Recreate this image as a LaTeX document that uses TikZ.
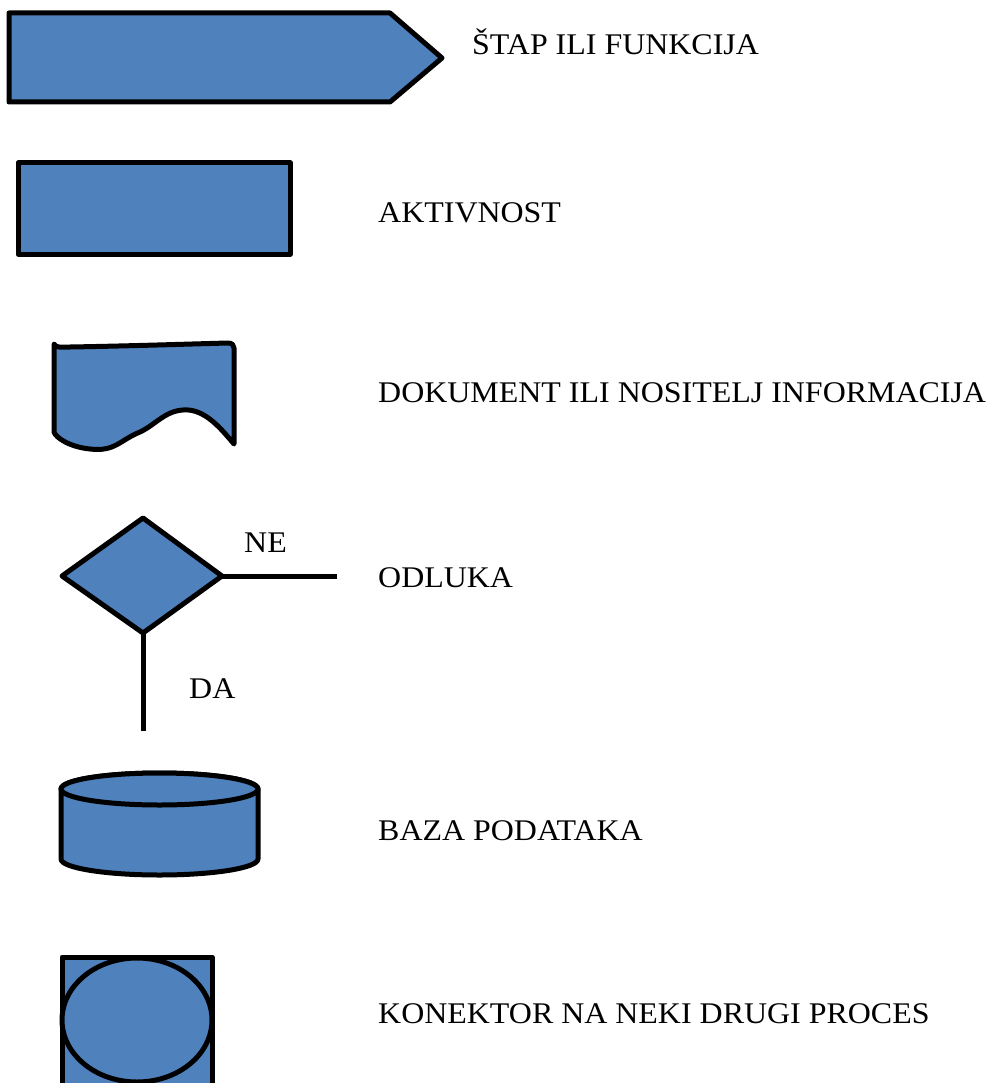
\documentclass[tikz,border=0pt]{standalone}
\usepackage{graphicx}
\usepackage{fontspec}
\setmainfont{Liberation Serif}
\definecolor{shapeblue}{HTML}{4F81BD}
\newcommand{\widetxt}[1]{\scalebox{1.065}[1]{#1}}
\begin{document}
\begin{tikzpicture}[x=1pt,y=-1pt,
  shp/.style={draw=black,fill=shapeblue,line width=5pt,line join=round},
  conn/.style={draw=black,line width=5pt},
  lbl/.style={anchor=base west,inner sep=0pt,font=\fontsize{30}{34}\selectfont}]
\useasboundingbox (0,0) rectangle (989,1083);
% step / function
\draw[shp] (9,13) -- (390,13) -- (442,58) -- (390,102) -- (9,102) -- cycle;
\node[lbl] (t1) at (472,55) {\widetxt{ŠTAP ILI FUNKCIJA}};
% activity
\draw[shp] (18,163) rectangle (290,254);
\node[lbl] (t2) at (378,223) {\widetxt{AKTIVNOST}};
% document
\draw[shp] (54,344) .. controls (56,348) and (60,347) .. (70,347)
  .. controls (130,346) and (190,344) .. (228,343)
  .. controls (232,343) and (234,345) .. (234,348)
  -- (234,444)
  .. controls (222,430) and (205,408) .. (183,410)
  .. controls (165,411) and (155,425) .. (140,432)
  .. controls (120,440) and (115,452) .. (90,449)
  .. controls (70,447) and (56,438) .. (54,432) -- cycle;
\node[lbl] (t3) at (378,402) {\widetxt{DOKUMENT ILI NOSITELJ INFORMACIJA}};
% decision
\draw[shp] (62,576) -- (143,518) -- (222,576) -- (143,633) -- cycle;
\coordinate (dr) at (222,576);
\coordinate (db) at (143,633);
\coordinate (ne) at (337,576);
\coordinate (da) at (143,731);
\draw[conn] (dr) -- (ne);
\draw[conn] (db) -- (da);
\node[lbl] (tne) at (244,552) {\widetxt{NE}};
\node[lbl] (tda) at (189,698) {\widetxt{DA}};
\node[lbl] (t4) at (378,587) {\widetxt{ODLUKA}};
% database
\draw[shp] (61,789) -- (61,859) arc[start angle=180,end angle=0,x radius=98.5,y radius=16]
  -- (258,789) arc[start angle=0,end angle=-180,x radius=98.5,y radius=16] -- cycle;
\draw[shp] (159.5,789) ellipse[x radius=98.5,y radius=16];
\node[lbl] (t5) at (378,840) {\widetxt{BAZA PODATAKA}};
% connector
\draw[shp] (62,1090) -- (62,957) -- (212,957) -- (212,1090);
\draw[shp] (137,1020) ellipse[x radius=75,y radius=62];
\node[lbl] (t6) at (378,1023) {\widetxt{KONEKTOR NA NEKI DRUGI PROCES}};
\end{tikzpicture}
\end{document}
